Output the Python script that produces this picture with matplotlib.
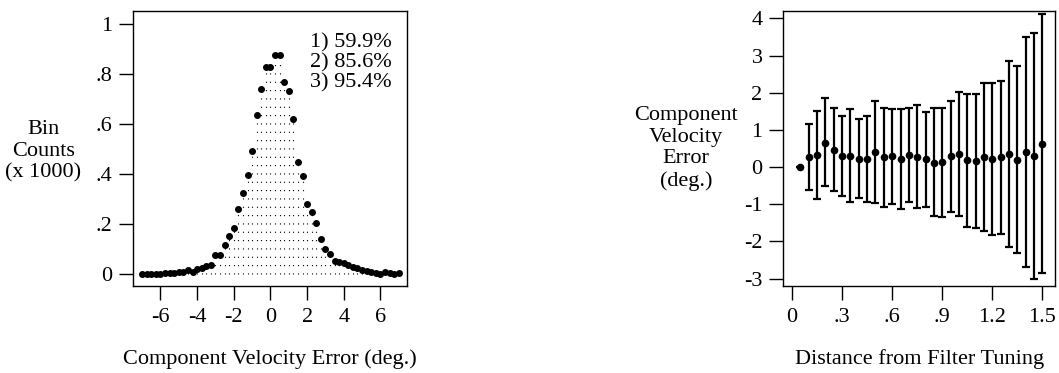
import numpy as np
import matplotlib
matplotlib.use("Agg")
import matplotlib.pyplot as plt

plt.rcParams["font.family"] = ["Liberation Serif", "DejaVu Serif"]
plt.rcParams["font.size"] = 16
plt.rcParams["axes.unicode_minus"] = False

# Left panel: histogram of component velocity error (bin counts x 1000)
err_bins = np.arange(-7, 7.01, 0.25)
bin_counts = [0.000, 0.001, 0.000, 0.001, 0.000, 0.002, 0.003, 0.004, 0.009, 0.009,
              0.015, 0.009, 0.021, 0.025, 0.032, 0.036, 0.076, 0.076, 0.115, 0.151,
              0.182, 0.261, 0.324, 0.394, 0.491, 0.635, 0.739, 0.828, 0.828, 0.875,
              0.875, 0.767, 0.732, 0.619, 0.448, 0.390, 0.281, 0.247, 0.202, 0.139,
              0.101, 0.080, 0.052, 0.049, 0.042, 0.036, 0.029, 0.023, 0.016, 0.012,
              0.008, 0.003, 0.001, 0.009, 0.003, 0.000, 0.003]
pct_text = ["1) 59.9%", "2) 85.6%", "3) 95.4%"]

# Right panel: mean error and range vs distance from filter tuning
dist = [0.05, 0.10, 0.15, 0.20, 0.25, 0.30, 0.35, 0.40, 0.45, 0.50,
        0.55, 0.60, 0.65, 0.70, 0.75, 0.80, 0.85, 0.90, 0.95, 1.00,
        1.05, 1.10, 1.15, 1.20, 1.25, 1.30, 1.35, 1.40, 1.45, 1.50]
mean_err = [0.00, 0.27, 0.32, 0.66, 0.46, 0.31, 0.31, 0.23, 0.23, 0.41,
            0.27, 0.30, 0.23, 0.32, 0.28, 0.23, 0.12, 0.14, 0.30, 0.36,
            0.20, 0.16, 0.27, 0.23, 0.26, 0.34, 0.20, 0.41, 0.30, 0.61]
err_top = [0.00, 1.17, 1.50, 1.85, 1.59, 1.38, 1.55, 1.29, 1.38, 1.78,
           1.60, 1.56, 1.56, 1.59, 1.67, 1.49, 1.58, 1.59, 1.78, 2.03,
           1.98, 1.98, 2.25, 2.25, 2.32, 2.86, 2.73, 3.50, 3.62, 4.11]
err_bot = [0.00, -0.61, -0.87, -0.51, -0.64, -0.77, -0.93, -0.83, -0.93, -0.96,
           -1.07, -0.98, -1.14, -0.95, -1.11, -1.07, -1.32, -1.34, -1.20, -1.32,
           -1.61, -1.64, -1.71, -1.83, -1.79, -2.16, -2.31, -2.68, -3.02, -2.84]

fig = plt.figure(figsize=(10.59, 3.73), dpi=100)
ax1 = fig.add_axes([0.1256, 0.2332, 0.2587, 0.7373])
ax2 = fig.add_axes([0.7397, 0.2332, 0.2566, 0.7373])

for ax in (ax1, ax2):
    ax.tick_params(direction="out", length=10, width=1, pad=5, top=False, right=False)
    ax.tick_params(axis="x", pad=6)
    for s in ax.spines.values():
        s.set_linewidth(1)

# left panel
ax1.vlines(err_bins, 0, bin_counts, colors="black", linewidth=0.8, linestyles=[(0, (1, 6.5))])
ax1.plot(err_bins, bin_counts, "o", color="black", markersize=4)
ax1.set_xlim(-7.5, 7.45)
ax1.set_ylim(-0.048, 1.05)
ax1.set_xticks([-6, -4, -2, 0, 2, 4, 6])
ax1.set_yticks([0, 0.2, 0.4, 0.6, 0.8, 1.0])
ax1.set_yticklabels(["0", ".2", ".4", ".6", ".8", "1"])
ax1.text(0.945, 0.92, "\n".join(pct_text), transform=ax1.transAxes,
         ha="right", va="top", linespacing=1.05)
ax1.set_xlabel("Component Velocity Error (deg.)", labelpad=16)
ax1.set_ylabel("Bin\nCounts\n(x 1000)", rotation=0, ha="center", va="center")
ax1.yaxis.set_label_coords(-0.328, 0.49)

# right panel
m = np.array(mean_err)
yerr = [m - np.array(err_bot), np.array(err_top) - m]
ax2.errorbar(dist, mean_err, yerr=yerr, fmt="o", color="black", markersize=4.5,
             elinewidth=1.6, capsize=3, capthick=1.6)
ax2.set_xlim(-0.052, 1.576)
ax2.set_ylim(-3.2, 4.2)
ax2.set_xticks([0, 0.3, 0.6, 0.9, 1.2, 1.5])
ax2.set_xticklabels(["0", ".3", ".6", ".9", "1.2", "1.5"])
ax2.set_yticks([-3, -2, -1, 0, 1, 2, 3, 4])
ax2.set_xlabel("Distance from Filter Tuning", labelpad=16)
ax2.set_ylabel("Component\nVelocity\nError\n(deg.)", rotation=0, ha="center", va="center")
ax2.yaxis.set_label_coords(-0.358, 0.5)

fig.savefig("out.png", dpi=100)
